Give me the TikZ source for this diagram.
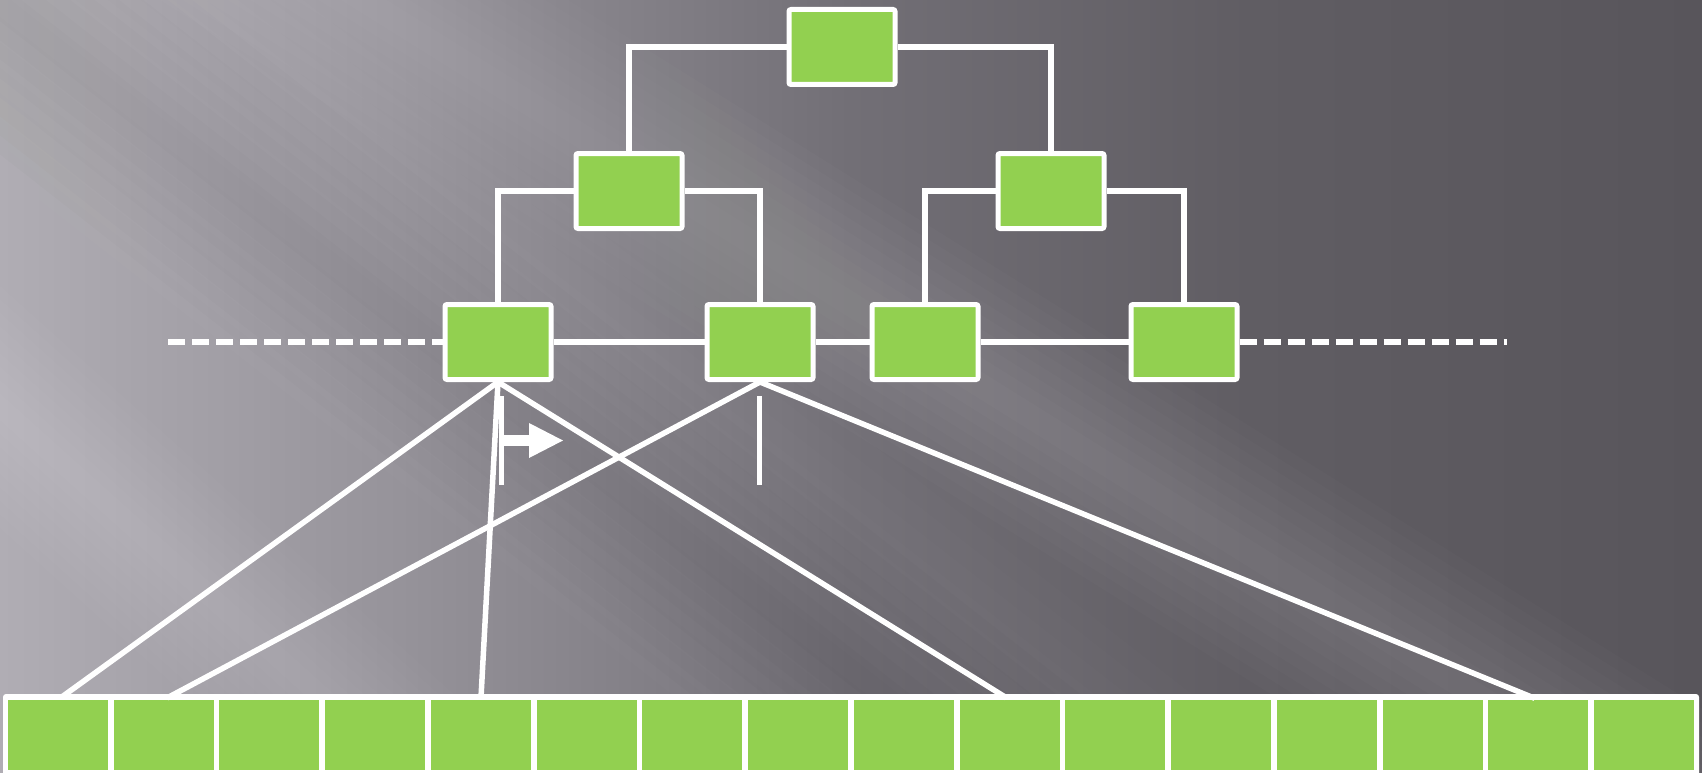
\documentclass[tikz,border=0pt]{standalone}
\usetikzlibrary{calc}
\definecolor{boxgreen}{RGB}{146,208,80}
\definecolor{bga}{RGB}{176,173,180}
\definecolor{bgb}{RGB}{150,147,154}
\definecolor{bgc}{RGB}{114,111,118}
\definecolor{bgd}{RGB}{96,93,99}
\definecolor{bge}{RGB}{88,85,91}
\tikzset{
  treebox/.style={draw=white, line width=5pt, fill=boxgreen, rounded corners=2pt,
    minimum width=106pt, minimum height=75pt, inner sep=0pt},
  cell/.style={fill=boxgreen, minimum width=100pt, minimum height=70pt, inner sep=0pt},
  link/.style={draw=white, line width=5.5pt},
  dashlink/.style={draw=white, line width=5.5pt, dash pattern=on 17pt off 7pt},
}
\begin{document}
\begin{tikzpicture}[x=1pt,y=-1pt]
\useasboundingbox (0,0) rectangle (1702,773);
% background
\begin{scope}
\clip (0,0) rectangle (1702,773);
\shade[left color=bga, right color=bgb] (0,0) rectangle (400,773);
\shade[left color=bgb, right color=bgc] (399,0) rectangle (850,773);
\shade[left color=bgc, right color=bgd] (849,0) rectangle (1250,773);
\shade[left color=bgd, right color=bge] (1249,0) rectangle (1702,773);
% darker diagonal band
\begin{scope}[shift={(330,260)}, rotate=-38]
  \foreach \w in {15,30,...,120} {\fill[black, opacity=0.011] (-1600,-\w) rectangle (1600,\w);}
\end{scope}
% main light streak
\begin{scope}[shift={(780,260)}, rotate=-32]
  \foreach \w in {12,24,...,110} {\fill[white, opacity=0.014] (-1600,-\w) rectangle (1600,\w);}
\end{scope}
% lower left light streak
\begin{scope}[shift={(170,560)}, rotate=-42]
  \foreach \w in {10,20,...,90} {\fill[white, opacity=0.016] (-1600,-\w) rectangle (1600,\w);}
\end{scope}
% top-left glow
\begin{scope}[shift={(120,60)}, rotate=-38]
  \foreach \w in {20,40,...,160} {\fill[white, opacity=0.010] (-1600,-\w) rectangle (1600,\w);}
\end{scope}
\end{scope}

% tree nodes
\node[treebox] (top) at (842,47) {};
\node[treebox] (L) at (629,191) {};
\node[treebox] (R) at (1051,191) {};
\node[treebox] (A) at (498,342) {};
\node[treebox] (B) at (760,342) {};
\node[treebox] (C) at (925,342) {};
\node[treebox] (D) at (1184,342) {};

% bottom array
\fill[white, rounded corners=3pt] (3,694) rectangle (1699,800);
\foreach \i in {1,...,16} {
  \node[cell] (c\i) at ({5+105.75*(\i-0.5)},735) {};
}

% connectors
\draw[link] (top.west) -| (L.north);
\draw[link] (top.east) -| (R.north);
\draw[link] (L.west) -| (A.north);
\draw[link] (L.east) -| (B.north);
\draw[link] (R.west) -| (C.north);
\draw[link] (R.east) -| (D.north);
\draw[link] (A.east) -- (B.west);
\draw[link] (B.east) -- (C.west);
\draw[link] (C.east) -- (D.west);
\coordinate (dl) at (168,342);
\coordinate (dr) at (1507,342);
\draw[dashlink] (dl) -- (A.west);
\draw[dashlink] (D.east) -- (dr);

% fan lines to array
\draw[link, shorten >=4pt] (A.south) -- (c1.north);
\draw[link, shorten >=4pt] (A.south) -- (c5.north);
\draw[link, shorten >=4pt] (A.south) -- (c10.north);
\draw[link, shorten >=4pt] (B.south) -- (c2.north);
\draw[link, shorten >=4pt] (B.south) -- (c15.north);

% markers
\draw[white, line width=5pt] (501,396) -- (501,485);
\draw[white, line width=5pt] (759,396) -- (759,485);
\fill[white] (501,435) rectangle (529,446);
\fill[white] (529,423) -- (563,440.5) -- (529,458) -- cycle;
\end{tikzpicture}
\end{document}
